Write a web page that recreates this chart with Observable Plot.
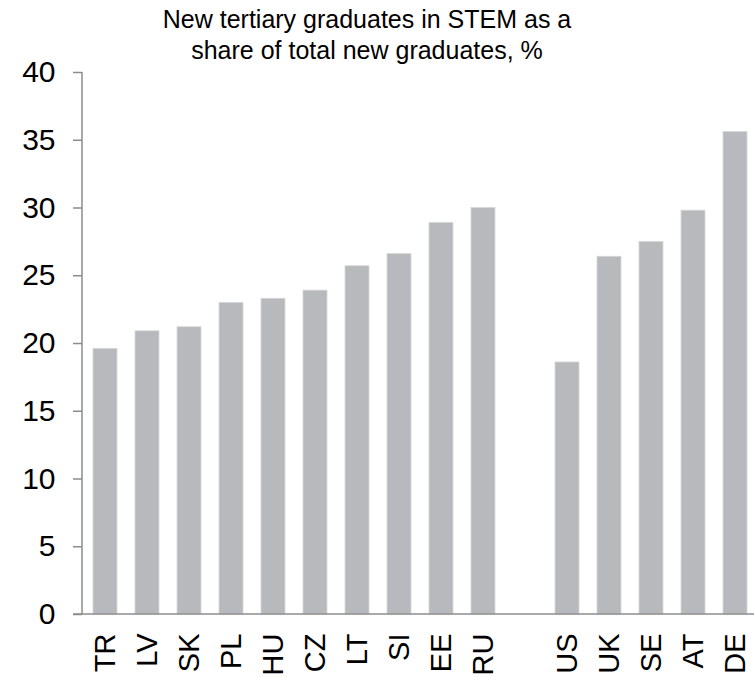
<!DOCTYPE html>
<html>
<head>
<meta charset="utf-8">
<script src="https://cdn.jsdelivr.net/npm/d3@7"></script>
<script src="https://cdn.jsdelivr.net/npm/@observablehq/plot@0.6"></script>
<style>
  html, body { margin: 0; padding: 0; background: #fff; }
  #wrap { position: relative; width: 754px; height: 677px; font-family: "Liberation Sans", Arial, sans-serif; }
  #title { position: absolute; left: 0; top: 4px; width: 734px; text-align: center; font-size: 25px; line-height: 31px; color: #000; }
  #chart { position: absolute; left: 0; top: 0; }
</style>
</head>
<body>
<div id="wrap">
  <div id="chart"></div>
  <div id="title">New tertiary graduates in STEM as a<br>share of total new graduates, %</div>
</div>
<script>
// Data
const groupA = ["TR", "LV", "SK", "PL", "HU", "CZ", "LT", "SI", "EE", "RU"];
const valuesA = [19.6, 20.9, 21.2, 23.0, 23.3, 23.9, 25.7, 26.6, 28.9, 30.0];
const groupB = ["US", "UK", "SE", "AT", "DE"];
const valuesB = [18.6, 26.4, 27.5, 29.8, 35.6];
const yTicks = [0, 5, 10, 15, 20, 25, 30, 35, 40];
const GAP = "·gap·";

const data = [
  ...groupA.map((c, i) => ({country: c, value: valuesA[i]})),
  ...groupB.map((c, i) => ({country: c, value: valuesB[i]}))
];
const domain = [...groupA, GAP, ...groupB];

const axisColor = "#8c8c8c";

const plot = Plot.plot({
  width: 754,
  height: 677,
  marginTop: 72,
  marginBottom: 63,
  marginLeft: 82,
  marginRight: 0,
  style: { fontFamily: "'Liberation Sans', Arial, sans-serif", color: "#000", background: "transparent" },
  x: { domain, range: [84, 756], paddingInner: 0.42, paddingOuter: 0.21, label: null },
  y: { domain: [0, 40], label: null },
  marks: [
    Plot.barY(data, { x: "country", y: "value", fill: "#b8b9bc", stroke: "#d6d7d9", strokeWidth: 0.8 }),
    (index, scales, values, dimensions) => {
      const ns = "http://www.w3.org/2000/svg";
      const g = document.createElementNS(ns, "g");
      const x0 = dimensions.marginLeft;
      const base = document.createElementNS(ns, "line");
      base.setAttribute("x1", x0 - 9);
      base.setAttribute("x2", dimensions.width);
      base.setAttribute("y1", scales.y(0));
      base.setAttribute("y2", scales.y(0));
      base.setAttribute("stroke", axisColor);
      base.setAttribute("stroke-width", 1.5);
      g.appendChild(base);
      const l = document.createElementNS(ns, "line");
      l.setAttribute("x1", x0);
      l.setAttribute("x2", x0);
      l.setAttribute("y1", scales.y(40));
      l.setAttribute("y2", scales.y(0));
      l.setAttribute("stroke", axisColor);
      l.setAttribute("stroke-width", 1.5);
      g.appendChild(l);
      return g;
    },
    Plot.axisY({
      ticks: yTicks,
      tickSize: 9,
      tickPadding: 18,
      fontSize: 30,
      stroke: axisColor,
      strokeWidth: 1.5,
      fill: "#000",
      label: null
    }),
    Plot.axisX({
      ticks: [...groupA, ...groupB],
      tickSize: 0,
      tickPadding: 19,
      tickRotate: -90,
      fontSize: 29,
      fill: "#000",
      label: null
    })
  ]
});
document.getElementById("chart").appendChild(plot);
</script>
</body>
</html>
